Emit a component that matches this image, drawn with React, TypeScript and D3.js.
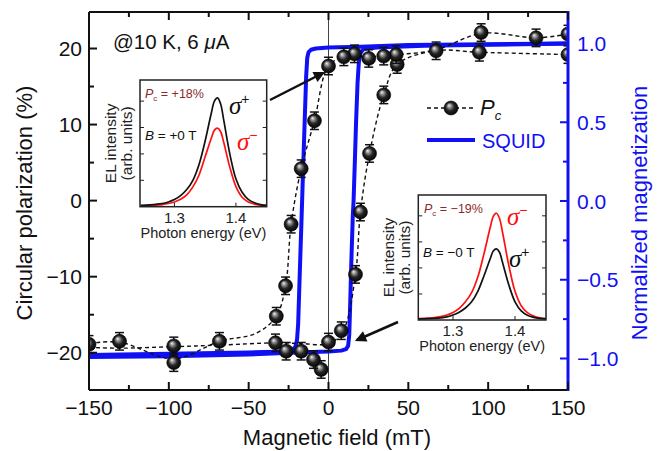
import React from "react";
import * as d3 from "d3";

const W = 669;
const H = 451;

// Circular polarization data points (field in mT, Pc in %)
const pcField = [150, 150, 130, 95.6, 94.5, 67.4, 43, 42.4, 34.6, 34.6, 25.2, 25.7, 20, 16.3, 16.9, 9.6, 8, 0, 0, -4.6, -9.4, -8.8, -17.1, -17.1, -23.4, -26.5, -26.9, -32.7, -33.2, -68.3, -96.9, -96.9, -130.9, -150];
const pcPol = [21.9, 19.2, 21.4, 22.1, 19.5, 19.7, 17.9, 19.2, 19.0, 13.9, 18.7, 6.2, -1.5, 19.3, -9.7, 18.9, -17.1, 17.7, -18.6, -22.2, -20.9, 10.5, 4.2, -19.8, -3.1, -19.8, -11.2, -15.2, -18.7, -18.5, -19.1, -21.3, -18.5, -18.9];
const pcErr = 1.15;

// dashed guide lines (sweep down / sweep up)
const guideDownField = [150, 130, 96, 67, 43, 25, 10, 0, -8.8, -17.1, -23.4, -26.9, -32.7, -45, -68.3, -97, -131, -150];
const guideDownPol = [21.9, 21.4, 22.0, 19.8, 19.2, 18.9, 18.9, 17.7, 10.5, 4.2, -3.1, -11.2, -15.2, -17.4, -18.5, -20.8, -18.6, -18.8];
const guideUpField = [-150, -131, -97, -68, -33, -17, 0, 9, 16.9, 20, 25.7, 34.6, 43, 67, 95, 150];
const guideUpPol = [-19.3, -19.4, -19.2, -19.0, -18.7, -18.8, -18.8, -17.2, -9.7, -1.5, 6.2, 13.9, 17.9, 19.7, 19.5, 19.2];

// SQUID hysteresis loop (normalized magnetization)
const squidDownField = [150, 100, 50, 20, 0, -8, -11, -12.5, -13.3, -14, -15, -16, -17, -18, -19, -19.7, -20.7, -22.5, -26, -50, -100, -150];
const squidDownMag = [1.0, 0.995, 0.99, 0.98, 0.975, 0.968, 0.96, 0.945, 0.91, 0.79, 0.48, 0.17, -0.15, -0.46, -0.78, -0.88, -0.925, -0.945, -0.955, -0.962, -0.97, -0.978];
const squidUpField = [-150, -100, -50, -20, 0, 8, 11, 12.3, 13, 13.6, 14.2, 15.2, 15.7, 16.5, 17.3, 18.2, 19, 20, 22, 30, 60, 100, 150];
const squidUpMag = [-0.99, -0.985, -0.975, -0.962, -0.955, -0.95, -0.94, -0.92, -0.85, -0.65, -0.42, -0.1, 0.0, 0.25, 0.51, 0.75, 0.88, 0.94, 0.965, 0.975, 0.985, 0.992, 1.0];

// EL spectra for the insets
const photonEnergy = [1.245, 1.26, 1.27, 1.28, 1.29, 1.3, 1.31, 1.32, 1.33, 1.34, 1.35, 1.36, 1.365, 1.37, 1.375, 1.38, 1.39, 1.4, 1.41, 1.42, 1.43, 1.44, 1.45];
const elPosPlus = [0.05, 0.07, 0.09, 0.12, 0.18, 0.27, 0.42, 0.65, 1.0, 1.6, 2.5, 3.55, 4.0, 4.12, 3.9, 3.3, 2.0, 1.05, 0.55, 0.28, 0.15, 0.08, 0.05];
const elPosMinus = [0.03, 0.04, 0.06, 0.08, 0.12, 0.18, 0.28, 0.45, 0.75, 1.2, 1.9, 2.6, 2.9, 2.98, 2.85, 2.45, 1.5, 0.76, 0.36, 0.18, 0.1, 0.06, 0.04];
const elNegMinus = [0.05, 0.07, 0.09, 0.13, 0.19, 0.29, 0.45, 0.7, 1.05, 1.65, 2.55, 3.55, 3.98, 4.1, 3.9, 3.35, 2.1, 1.1, 0.55, 0.28, 0.15, 0.08, 0.05];
const elNegPlus = [0.04, 0.05, 0.06, 0.08, 0.12, 0.19, 0.3, 0.46, 0.7, 1.1, 1.7, 2.35, 2.65, 2.73, 2.6, 2.2, 1.35, 0.7, 0.35, 0.18, 0.1, 0.06, 0.04];

const xTicks = [-150, -100, -50, 0, 50, 100, 150];
const xMinor = [-125, -75, -25, 25, 75, 125];
const yTicks = [-20, -10, 0, 10, 20];
const yMinor = [-15, -5, 5, 15];
const magTicks = [-1, -0.5, 0, 0.5, 1];
const magMinor = [-0.75, -0.25, 0.25, 0.75];
const insetTicks = [1.3, 1.4];
const insetYTicks = [1, 2, 3, 4];

const BLUE = "#1010f5";
const DARKRED = "#8b2a2a";
const SANS = "'Liberation Sans', Arial, sans-serif";
const SERIF = "'Liberation Serif', 'Times New Roman', serif";
const minus = (v: number, digits: number) => (v < 0 ? "\u2212" : "") + Math.abs(v).toFixed(digits);

const left = 89, right = 568, top = 12, bottom = 390;
const x = d3.scaleLinear().domain([-150, 150]).range([left, right]);
const y = d3.scaleLinear().domain([-24.9, 24.8]).range([bottom, top]);
const yMag = d3.scaleLinear().domain([-1.2, 1.2]).range([bottom, top]);

function Inset({ x0, y0, x1, y1, black, red }: any) {
  const ex = d3.scaleLinear().domain([1.244, 1.45]).range([x0, x1]);
  const ey = d3.scaleLinear().domain([0, 4.8]).range([y1, y0]);
  const line = d3.line<number>().x((_, i) => ex(photonEnergy[i])).y((d) => ey(d)).curve(d3.curveCatmullRom);
  return (
    <g>
      <rect x={x0} y={y0} width={x1 - x0} height={y1 - y0} fill="white" />
      <path d={line(red) || ""} fill="none" stroke="#ff1010" strokeWidth={1.7} />
      <path d={line(black) || ""} fill="none" stroke="#111" strokeWidth={1.7} />
      {insetYTicks.map((t) => (
        <g key={t}>
          <line x1={x0} x2={x0 + 4} y1={ey(t)} y2={ey(t)} stroke="#222" />
          <line x1={x1} x2={x1 - 4} y1={ey(t)} y2={ey(t)} stroke="#222" />
        </g>
      ))}
      {insetTicks.map((t) => (
        <g key={t}>
          <line x1={ex(t)} x2={ex(t)} y1={y1} y2={y1 - 4} stroke="#222" />
          <text x={ex(t)} y={y1 + 16} textAnchor="middle" fontSize={15} fontFamily={SANS} fill="#222">
            {t.toFixed(1)}
          </text>
        </g>
      ))}
      <rect x={x0} y={y0} width={x1 - x0} height={y1 - y0} fill="none" stroke="#222" strokeWidth={1.5} />
      <text x={(x0 + x1) / 2} y={y1 + 31} textAnchor="middle" fontSize={14.5} fontFamily={SANS} fill="#222">
        Photon energy (eV)
      </text>
      <text transform={`translate(${x0 - 24},${(y0 + y1) / 2}) rotate(-90)`} textAnchor="middle" fontSize={15.5} fontFamily={SANS} fill="#222">
        EL intensity
      </text>
      <text transform={`translate(${x0 - 8},${(y0 + y1) / 2}) rotate(-90)`} textAnchor="middle" fontSize={15.5} fontFamily={SANS} fill="#222">
        (arb. units)
      </text>
    </g>
  );
}

function Ball({ cx, cy }: { cx: number; cy: number }) {
  return <circle cx={cx} cy={cy} r={7} fill="url(#ball)" stroke="#000" strokeWidth={0.6} />;
}

function Sigma({ x0, y0, sign, color }: any) {
  return (
    <text x={x0} y={y0} fill={color} fontFamily={SERIF} fontStyle="italic" fontSize={25}>
      σ
      <tspan dy={-10} fontSize={14} fontStyle="normal" fontFamily={SANS}>
        {sign}
      </tspan>
    </text>
  );
}

export default function App() {
  const guide = d3.line<[number, number]>().x((d) => x(d[0])).y((d) => y(d[1])).curve(d3.curveCatmullRom.alpha(0.5));
  const squid = d3.line<[number, number]>().x((d) => x(d[0])).y((d) => yMag(d[1])).curve(d3.curveLinear);
  const down = guideDownField.map((f, i) => [f, guideDownPol[i]] as [number, number]);
  const up = guideUpField.map((f, i) => [f, guideUpPol[i]] as [number, number]);
  const sqDown = squidDownField.map((f, i) => [f, squidDownMag[i]] as [number, number]);
  const sqUp = squidUpField.map((f, i) => [f, squidUpMag[i]] as [number, number]);

  return (
    <svg width={W} height={H} style={{ position: "absolute", left: 0, top: 0, background: "white" }} fontFamily={SANS}>
      <defs>
        <radialGradient id="ball" cx="0.5" cy="0.5" r="0.55" fx="0.35" fy="0.3">
          <stop offset="0%" stopColor="#f4f4f4" />
          <stop offset="22%" stopColor="#9a9a9a" />
          <stop offset="55%" stopColor="#252525" />
          <stop offset="100%" stopColor="#000" />
        </radialGradient>
        <clipPath id="plot">
          <rect x={left} y={top} width={right - left} height={bottom - top} />
        </clipPath>
        <marker id="arrow" viewBox="0 0 10 10" refX={8} refY={5} markerWidth={5.5} markerHeight={4.5} orient="auto">
          <path d="M0,0 L10,5 L0,10 z" fill="#111" />
        </marker>
      </defs>

      {/* zero field line */}
      <line x1={x(0)} x2={x(0)} y1={top} y2={bottom} stroke="#444" strokeWidth={1} />

      <g clipPath="url(#plot)">
        <path d={squid(sqDown) || ""} fill="none" stroke={BLUE} strokeWidth={4} strokeLinejoin="round" />
        <path d={squid(sqUp) || ""} fill="none" stroke={BLUE} strokeWidth={4} strokeLinejoin="round" />
        <path d={guide(down) || ""} fill="none" stroke="#111" strokeWidth={1.4} strokeDasharray="4,3" />
        <path d={guide(up) || ""} fill="none" stroke="#111" strokeWidth={1.4} strokeDasharray="4,3" />
        {pcField.map((f, i) => (
          <g key={i}>
            <line x1={x(f)} x2={x(f)} y1={y(pcPol[i] - pcErr)} y2={y(pcPol[i] + pcErr)} stroke="#111" strokeWidth={1.5} />
            <line x1={x(f) - 4.5} x2={x(f) + 4.5} y1={y(pcPol[i] - pcErr)} y2={y(pcPol[i] - pcErr)} stroke="#111" strokeWidth={1.5} />
            <line x1={x(f) - 4.5} x2={x(f) + 4.5} y1={y(pcPol[i] + pcErr)} y2={y(pcPol[i] + pcErr)} stroke="#111" strokeWidth={1.5} />
            <Ball cx={x(f)} cy={y(pcPol[i])} />
          </g>
        ))}
      </g>

      {/* frame and axes */}
      <line x1={left} x2={left} y1={top} y2={bottom} stroke="#111" strokeWidth={2} />
      <line x1={left} x2={right} y1={bottom} y2={bottom} stroke="#111" strokeWidth={2} />
      <line x1={left} x2={right} y1={top} y2={top} stroke="#111" strokeWidth={2} />
      <line x1={right} x2={right} y1={top - 1} y2={bottom + 1} stroke={BLUE} strokeWidth={3} />

      {xTicks.map((t) => (
        <g key={t}>
          <line x1={x(t)} x2={x(t)} y1={bottom} y2={bottom - 8} stroke="#111" strokeWidth={2} />
          <line x1={x(t)} x2={x(t)} y1={top} y2={top + 8} stroke="#111" strokeWidth={2} />
          <text x={x(t)} y={415} textAnchor="middle" fontSize={21} fill="#111">
            {minus(t, 0)}
          </text>
        </g>
      ))}
      {xMinor.map((t) => (
        <g key={t}>
          <line x1={x(t)} x2={x(t)} y1={bottom} y2={bottom - 5} stroke="#111" strokeWidth={2} />
          <line x1={x(t)} x2={x(t)} y1={top} y2={top + 5} stroke="#111" strokeWidth={2} />
        </g>
      ))}
      {yTicks.map((t) => (
        <g key={t}>
          <line x1={left} x2={left + 8} y1={y(t)} y2={y(t)} stroke="#111" strokeWidth={2} />
          <text x={82} y={y(t) + 7.5} textAnchor="end" fontSize={21} fill="#111">
            {minus(t, 0)}
          </text>
        </g>
      ))}
      {yMinor.map((t) => (
        <line key={t} x1={left} x2={left + 5} y1={y(t)} y2={y(t)} stroke="#111" strokeWidth={2} />
      ))}
      {magTicks.map((t) => (
        <g key={t}>
          <line x1={right} x2={right - 8} y1={yMag(t)} y2={yMag(t)} stroke={BLUE} strokeWidth={2} />
          <text x={577} y={yMag(t) + 7.5} fontSize={21} fill={BLUE}>
            {minus(t, 1)}
          </text>
        </g>
      ))}
      {magMinor.map((t) => (
        <line key={t} x1={right} x2={right - 5} y1={yMag(t)} y2={yMag(t)} stroke={BLUE} strokeWidth={2} />
      ))}

      {/* axis titles */}
      <text x={337} y={445} textAnchor="middle" fontSize={22} fill="#111">
        Magnetic field (mT)
      </text>
      <text transform="translate(32,203) rotate(-90)" textAnchor="middle" fontSize={22} fill="#111">
        Circular polarization (%)
      </text>
      <text transform="translate(647,213) rotate(-90)" textAnchor="middle" fontSize={22} fill={BLUE}>
        Normalized magnetization
      </text>

      <text x={113} y={49} fontSize={20.5} fill="#111">
        @10 K, 6 <tspan fontStyle="italic">μ</tspan>A
      </text>

      {/* legend */}
      <line x1={427} x2={473} y1={108} y2={108} stroke="#111" strokeWidth={1.4} strokeDasharray="4,3" />
      <Ball cx={451} cy={108} />
      <text x={480} y={115} fontSize={22} fill="#111">
        <tspan fontStyle="italic">P</tspan>
        <tspan fontStyle="italic" fontSize={13} dy={5}>c</tspan>
      </text>
      <line x1={427} x2={475} y1={140} y2={140} stroke={BLUE} strokeWidth={4} />
      <text x={482} y={148} fontSize={20} fill={BLUE}>
        SQUID
      </text>

      {/* insets */}
      <Inset x0={140} y0={80} x1={266.7} y1={206.7} black={elPosPlus} red={elPosMinus} />
      <text x={145} y={98} fontSize={12.5} fill={DARKRED}>
        <tspan fontStyle="italic">P</tspan>
        <tspan fontSize={8} dy={3}>c</tspan>
        <tspan dy={-3}> = +18%</tspan>
      </text>
      <text x={145} y={140} fontSize={13.5} fill="#111">
        <tspan fontStyle="italic">B</tspan> = +0 T
      </text>
      <Sigma x0={229} y0={114} sign="+" color="#111" />
      <Sigma x0={237} y0={150} sign={"\u2212"} color="#ff1010" />

      <Inset x0={418.3} y0={195} x1={546} y1={320} black={elNegPlus} red={elNegMinus} />
      <text x={424} y={213} fontSize={12.5} fill={DARKRED}>
        <tspan fontStyle="italic">P</tspan>
        <tspan fontSize={8} dy={3}>c</tspan>
        <tspan dy={-3}> = {"\u2212"}19%</tspan>
      </text>
      <text x={423} y={257} fontSize={13.5} fill="#111">
        <tspan fontStyle="italic">B</tspan> = {"\u2212"}0 T
      </text>
      <Sigma x0={507} y0={225} sign={"\u2212"} color="#ff1010" />
      <Sigma x0={509} y0={267} sign="+" color="#111" />

      {/* arrows */}
      <line x1={270} y1={100} x2={323} y2={73} stroke="#111" strokeWidth={2.5} markerEnd="url(#arrow)" />
      <line x1={398} y1={322} x2={357} y2={340} stroke="#111" strokeWidth={2.5} markerEnd="url(#arrow)" />
    </svg>
  );
}
